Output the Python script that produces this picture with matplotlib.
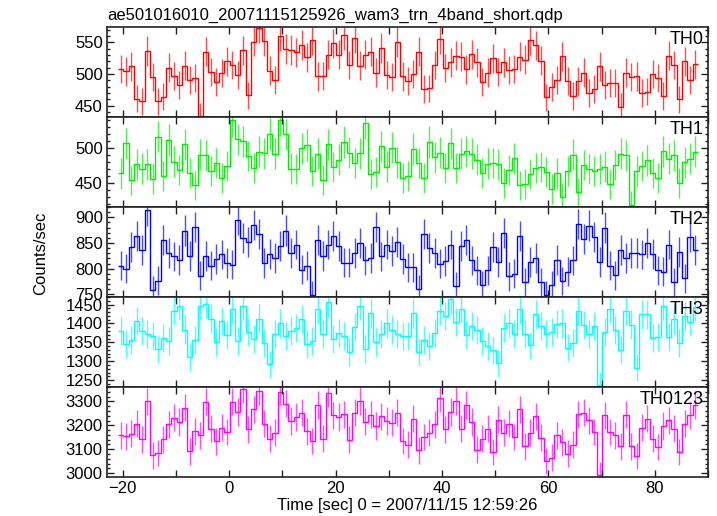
import numpy as np
import matplotlib
matplotlib.use("Agg")
import matplotlib.pyplot as plt
from matplotlib.ticker import MultipleLocator

plt.rcParams["font.family"] = ["Liberation Sans", "DejaVu Sans"]

title = "ae501016010_20071115125926_wam3_trn_4band_short.qdp"
xlabel = "Time [sec] 0 = 2007/11/15 12:59:26"
ylabel = "Counts/sec"

# 1 s bins
bin_width = 1.0
time_sec = np.arange(-20.4, 88.0, bin_width)

th0 = [508, 504, 512, 461, 457, 536, 495, 457, 464, 510, 497, 482, 513, 490, 494, 434,
       535, 503, 487, 501, 520, 514, 498, 537, 466, 551, 572, 552, 505, 490, 559, 539,
       538, 534, 546, 526, 553, 496, 497, 530, 548, 530, 561, 514, 557, 513, 530, 535,
       502, 541, 498, 495, 550, 496, 489, 500, 535, 476, 477, 514, 555, 509, 518, 529,
       527, 507, 531, 518, 487, 502, 525, 503, 518, 506, 508, 527, 522, 553, 545, 521,
       463, 479, 490, 528, 489, 465, 489, 502, 470, 476, 512, 482, 486, 485, 448, 502,
       495, 496, 470, 472, 500, 494, 465, 529, 514, 460, 520, 490, 515]

th1 = [464, 507, 454, 477, 471, 477, 456, 517, 461, 512, 481, 469, 506, 465, 447, 491,
       490, 467, 479, 457, 475, 540, 513, 510, 489, 472, 495, 493, 521, 492, 541, 520,
       471, 470, 500, 505, 468, 492, 455, 506, 473, 484, 509, 494, 479, 493, 536, 463,
       466, 503, 474, 501, 480, 458, 461, 499, 479, 457, 509, 487, 494, 472, 507, 472,
       492, 496, 492, 484, 465, 478, 479, 477, 450, 469, 486, 447, 449, 463, 472, 473,
       466, 442, 464, 430, 467, 491, 437, 476, 470, 468, 470, 474, 449, 476, 492, 490,
       419, 468, 475, 483, 465, 457, 496, 485, 490, 450, 480, 485, 495]

th2 = [806, 800, 842, 863, 836, 914, 759, 777, 856, 830, 824, 817, 874, 825, 881, 786,
       825, 806, 819, 828, 811, 808, 895, 860, 852, 885, 868, 811, 829, 821, 845, 874,
       831, 847, 798, 806, 748, 856, 825, 847, 863, 845, 812, 812, 830, 850, 816, 821,
       881, 824, 847, 834, 852, 819, 803, 803, 761, 868, 841, 830, 810, 815, 847, 766,
       845, 855, 816, 797, 768, 797, 842, 813, 869, 785, 790, 863, 774, 813, 821, 774,
       748, 768, 817, 776, 794, 816, 887, 858, 884, 861, 813, 880, 806, 787, 836, 821,
       830, 830, 828, 850, 829, 797, 794, 847, 774, 832, 781, 861, 837]

th3 = [1380, 1345, 1356, 1406, 1380, 1373, 1366, 1333, 1362, 1353, 1433, 1446, 1382,
       1311, 1357, 1446, 1452, 1413, 1351, 1407, 1369, 1437, 1354, 1446, 1378, 1360,
       1413, 1348, 1292, 1371, 1400, 1366, 1379, 1387, 1411, 1345, 1353, 1437, 1372,
       1456, 1360, 1376, 1366, 1324, 1391, 1446, 1333, 1427, 1351, 1372, 1400, 1382,
       1373, 1366, 1366, 1427, 1325, 1356, 1340, 1375, 1434, 1420, 1464, 1403, 1438,
       1369, 1393, 1382, 1354, 1341, 1329, 1295, 1387, 1400, 1372, 1437, 1373, 1342,
       1424, 1393, 1373, 1378, 1398, 1400, 1336, 1349, 1434, 1396, 1373, 1393, 1237,
       1378, 1439, 1382, 1331, 1434, 1397, 1283, 1424, 1424, 1362, 1364, 1446, 1364,
       1411, 1348, 1420, 1404, 1444]

th0123 = [3158, 3154, 3165, 3207, 3141, 3300, 3074, 3084, 3141, 3204, 3232, 3214, 3274,
          3091, 3176, 3158, 3299, 3186, 3133, 3190, 3172, 3299, 3256, 3351, 3183, 3266,
          3344, 3207, 3144, 3169, 3340, 3291, 3218, 3235, 3252, 3176, 3134, 3284, 3144,
          3335, 3242, 3235, 3246, 3140, 3253, 3302, 3215, 3245, 3197, 3238, 3218, 3211,
          3253, 3134, 3119, 3228, 3095, 3151, 3168, 3204, 3312, 3183, 3256, 3302, 3186,
          3284, 3214, 3098, 3144, 3186, 3088, 3224, 3168, 3207, 3151, 3266, 3112, 3169,
          3238, 3148, 3051, 3065, 3158, 3129, 3081, 3119, 3246, 3253, 3221, 3172, 2992,
          3242, 3172, 3158, 3112, 3245, 3112, 3072, 3190, 3228, 3144, 3109, 3197, 3221,
          3186, 3088, 3207, 3242, 3284]

bands = ["TH0", "TH1", "TH2", "TH3", "TH0123"]
rates = [th0, th1, th2, th3, th0123]
colors = ["#ff0000", "#00ee00", "#0000ff", "#00ffff", "#ff00ff"]
ylims = [(432, 574), (416, 545), (745, 920), (1232, 1470), (2984, 3360)]
major_steps = [50, 50, 50, 50, 100]
minor_steps = [10, 10, 10, 10, 20]

fig, axes = plt.subplots(5, 1, sharex=True, figsize=(7.17, 5.16), dpi=100)
fig.subplots_adjust(left=0.149, right=0.9875, bottom=0.0756, top=0.9477, hspace=0)

edges = np.append(time_sec - bin_width / 2, time_sec[-1] + bin_width / 2)

for ax, name, rate, color, ylim, maj, mnr in zip(axes, bands, rates, colors, ylims,
                                                 major_steps, minor_steps):
    rate = np.array(rate, dtype=float)
    err = np.sqrt(rate / bin_width)  # poisson errors
    ax.errorbar(time_sec, rate, yerr=err, fmt="none", ecolor=color,
                elinewidth=1.0, alpha=0.7)
    ax.stairs(rate, edges, baseline=None, color=color, lw=1.0)
    ax.set_ylim(*ylim)
    ax.yaxis.set_major_locator(MultipleLocator(maj))
    ax.yaxis.set_minor_locator(MultipleLocator(mnr))
    ax.xaxis.set_major_locator(MultipleLocator(20))
    ax.xaxis.set_minor_locator(MultipleLocator(10))
    ax.tick_params(which="both", direction="in", top=True, right=True,
                   labelsize=12, pad=3, width=1.0, color="#222222")
    ax.tick_params(which="major", length=5)
    ax.tick_params(which="minor", length=2.5)
    ax.tick_params(axis="x", which="minor", length=5)
    for sp in ax.spines.values():
        sp.set_linewidth(1.2)
        sp.set_color("#222222")
    ax.text(0.992, 0.96, name, transform=ax.transAxes, ha="right", va="top",
            fontsize=13)

axes[0].set_xlim(-23, 90)
axes[0].set_title(title, loc="left", fontsize=12, pad=5)
axes[-1].set_xlabel(xlabel, fontsize=12, labelpad=1)
fig.text(0.056, 0.51, ylabel, rotation=90, ha="center", va="center", fontsize=12)

fig.savefig("out.png", dpi=100)
